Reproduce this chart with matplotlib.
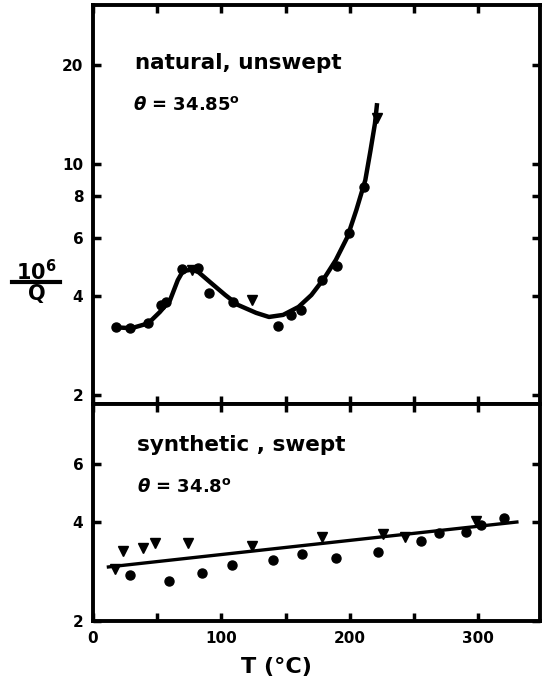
import matplotlib.pyplot as plt
from matplotlib.lines import Line2D
from matplotlib.ticker import FixedLocator, NullLocator, FuncFormatter

# natural, unswept (upper panel)
nat_T = [18, 29, 43, 53, 57, 69, 82, 90, 109, 144, 154, 162, 178, 190, 199, 211]
nat_q = [3.21, 3.19, 3.30, 3.75, 3.83, 4.82, 4.85, 4.07, 3.83, 3.25, 3.49, 3.62, 4.46, 4.92, 6.19, 8.54]
nat_tri_T = [77, 124, 221]
nat_tri_q = [4.78, 3.88, 13.8]
nat_fit_T = [17, 30, 43, 52, 60, 66, 70, 77, 82, 92, 103, 113, 127, 137,
             148, 160, 170, 180, 189, 198, 205, 212, 216, 219.5, 221]
nat_fit_q = [3.21, 3.19, 3.30, 3.57, 3.88, 4.46, 4.75, 4.80, 4.72, 4.37, 4.02, 3.75, 3.55, 3.45,
             3.50, 3.70, 4.02, 4.52, 5.13, 6.02, 7.27, 8.96, 11.0, 13.3, 15.1]

# synthetic, swept (lower panel)
syn_T = [29, 59, 85, 108, 140, 163, 189, 222, 255, 269, 290, 302, 320]
syn_q = [2.76, 2.64, 2.80, 2.96, 3.06, 3.20, 3.11, 3.24, 3.50, 3.70, 3.72, 3.92, 4.11]
syn_tri_T = [17, 23, 39, 48, 74, 124, 178, 226, 243, 298]
syn_tri_q = [2.88, 3.26, 3.33, 3.45, 3.45, 3.38, 3.60, 3.67, 3.60, 4.03]
syn_fit_T = [12, 330]
syn_fit_q = [2.92, 4.00]

x_ticks = [0, 50, 100, 150, 200, 250, 300]
top_yticks = [2, 4, 6, 8, 10, 20]
bot_yticks = [2, 4, 6]

plt.rcParams['font.family'] = 'DejaVu Sans'
plt.rcParams['font.weight'] = 'bold'

fig = plt.figure(figsize=(5.44, 6.83), dpi=100)
W, H = 544, 683
ax1 = fig.add_axes([93 / W, 1 - 404 / H, (540 - 93) / W, (404 - 5) / H])
ax2 = fig.add_axes([93 / W, 1 - 621 / H, (540 - 93) / W, (621 - 404) / H])

def style_axes(ax, yticks, ylim):
    ax.set_yscale('log')
    ax.set_xlim(0, 348)
    ax.set_ylim(*ylim)
    ax.xaxis.set_major_locator(FixedLocator(x_ticks))
    ax.xaxis.set_minor_locator(NullLocator())
    ax.yaxis.set_major_locator(FixedLocator(yticks))
    ax.yaxis.set_minor_locator(NullLocator())
    ax.yaxis.set_major_formatter(FuncFormatter(lambda v, p: '%d' % round(v)))
    ax.xaxis.set_major_formatter(FuncFormatter(lambda v, p: '%d' % v if v % 100 == 0 else ''))
    ax.tick_params(direction='in', length=6, width=2.5, top=True, right=True,
                   labelsize=11, pad=7)
    for s in ax.spines.values():
        s.set_linewidth(2.8)

style_axes(ax1, top_yticks, (1.88, 30.4))
style_axes(ax2, bot_yticks, (2.0, 9.14))
ax1.tick_params(labelbottom=False)

ax1.plot(nat_fit_T, nat_fit_q, color='black', lw=3.2, solid_joinstyle='round')
ax1.plot(nat_T, nat_q, 'o', color='black', ms=6.5)
ax1.plot(nat_tri_T, nat_tri_q, 'v', color='black', ms=7)

ax2.plot(syn_fit_T, syn_fit_q, color='black', lw=2.4)
ax2.plot(syn_T, syn_q, 'o', color='black', ms=6.5)
ax2.plot(syn_tri_T, syn_tri_q, 'v', color='black', ms=7)

fig.text(135 / W, 1 - 63 / H, 'natural, unswept', fontsize=15.5, fontweight='bold', va='center')
fig.text(133 / W, 1 - 105 / H, r'$\theta$ = 34.85$^\mathbf{o}$', fontsize=13, fontweight='bold', va='center')
fig.text(137 / W, 1 - 445 / H, 'synthetic , swept', fontsize=15.5, fontweight='bold', va='center')
fig.text(137 / W, 1 - 487 / H, r'$\theta$ = 34.8$^\mathbf{o}$', fontsize=13, fontweight='bold', va='center')

fig.text(276 / W, 1 - 667 / H, 'T (°C)', fontsize=16, fontweight='bold', ha='center', va='center')

# y label drawn as a fraction: 10^6 over Q
fig.text(36 / W, 1 - 272 / H, r'10$^\mathbf{6}$', fontsize=15, fontweight='bold', ha='center', va='center')
fig.add_artist(Line2D([12 / W, 60 / W], [1 - 282 / H, 1 - 282 / H], color='black', lw=3,
                      transform=fig.transFigure))
fig.text(37 / W, 1 - 294 / H, 'Q', fontsize=15, fontweight='bold', ha='center', va='center')

fig.savefig('out.png', dpi=100)
